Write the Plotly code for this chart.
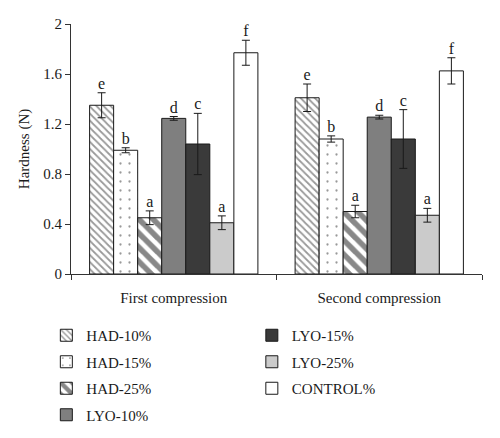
import plotly.graph_objects as go

categories = ["First compression", "Second compression"]
series = ["HAD-10%", "HAD-15%", "HAD-25%", "LYO-10%", "LYO-15%", "LYO-25%", "CONTROL%"]
values = {
    "HAD-10%": [1.35, 1.41],
    "HAD-15%": [0.99, 1.08],
    "HAD-25%": [0.45, 0.50],
    "LYO-10%": [1.245, 1.255],
    "LYO-15%": [1.04, 1.08],
    "LYO-25%": [0.41, 0.47],
    "CONTROL%": [1.77, 1.625],
}
errors = {
    "HAD-10%": [0.10, 0.11],
    "HAD-15%": [0.02, 0.025],
    "HAD-25%": [0.055, 0.05],
    "LYO-10%": [0.015, 0.015],
    "LYO-15%": [0.245, 0.235],
    "LYO-25%": [0.055, 0.055],
    "CONTROL%": [0.10, 0.105],
}
letters = {
    "HAD-10%": ["e", "e"],
    "HAD-15%": ["b", "b"],
    "HAD-25%": ["a", "a"],
    "LYO-10%": ["d", "d"],
    "LYO-15%": ["c", "c"],
    "LYO-25%": ["a", "a"],
    "CONTROL%": ["f", "f"],
}
y_ticks = [0, 0.4, 0.8, 1.2, 1.6, 2]
y_tick_labels = ["0", "0.4", "0.8", "1.2", "1.6", "2"]

styles = {
    "HAD-10%": dict(color="white", pattern=dict(shape="\\", fgcolor="#333", bgcolor="white", size=5, solidity=0.35)),
    "HAD-15%": dict(color="white", pattern=dict(shape=".", fgcolor="#333", bgcolor="white", size=9, solidity=0.05)),
    "HAD-25%": dict(color="white", pattern=dict(shape="\\", fgcolor="#111", bgcolor="white", size=10, solidity=0.55)),
    "LYO-10%": dict(color="#7f7f7f"),
    "LYO-15%": dict(color="#3a3a3a"),
    "LYO-25%": dict(color="#cbcbcb"),
    "CONTROL%": dict(color="white"),
}

FONT = "Liberation Serif"
BAR_W = 0.117
n = len(series)

fig = go.Figure()
for i, s in enumerate(series):
    xs = [g + (i - (n - 1) / 2) * BAR_W for g in range(len(categories))]
    marker = dict(line=dict(color="#1a1a1a", width=1), **styles[s])
    fig.add_trace(go.Bar(
        x=xs, y=values[s], width=BAR_W, name=s, marker=marker,
        error_y=dict(type="data", array=errors[s], color="#1a1a1a", thickness=1, width=4),
        legend="legend" if i < 4 else "legend2",
        legendgroup=s,
    ))
    fig.add_trace(go.Scatter(
        x=xs, y=[v + e for v, e in zip(values[s], errors[s])],
        mode="text", text=letters[s], textposition="top center",
        textfont=dict(family=FONT, size=16, color="#1a1a1a"),
        showlegend=False, hoverinfo="skip", cliponaxis=False,
    ))

fig.update_layout(
    width=492, height=430,
    margin=dict(l=63, r=18, t=16, b=164, autoexpand=False),
    paper_bgcolor="white", plot_bgcolor="white",
    barmode="overlay",
    font=dict(family=FONT, size=14, color="#1a1a1a"),
    xaxis=dict(
        range=[-0.5, 1.5], tickvals=list(range(len(categories))), ticktext=categories,
        ticks="", showline=True, linecolor="#333", linewidth=1, showgrid=False, zeroline=False,
        tickfont=dict(size=15), ticklabelstandoff=10,
        minor=dict(tick0=0.5, dtick=1, ticks="outside", ticklen=5, tickcolor="#333", showgrid=False),
    ),
    yaxis=dict(
        range=[0, 2], tickvals=y_ticks, ticktext=y_tick_labels,
        ticks="outside", ticklen=5, tickcolor="#333",
        showline=True, linecolor="#333", linewidth=1, showgrid=False, zeroline=False,
        title=dict(text="Hardness (N)", font=dict(size=15), standoff=10),
        tickfont=dict(size=15),
    ),
    legend=dict(x=-0.06, xanchor="left", y=-0.18, yanchor="top", orientation="v",
                font=dict(size=15), tracegroupgap=4, bgcolor="rgba(0,0,0,0)"),
    legend2=dict(x=0.44, xanchor="left", y=-0.18, yanchor="top", orientation="v",
                 font=dict(size=15), tracegroupgap=4, bgcolor="rgba(0,0,0,0)"),
    showlegend=True,
)

fig.write_html("out.html")
